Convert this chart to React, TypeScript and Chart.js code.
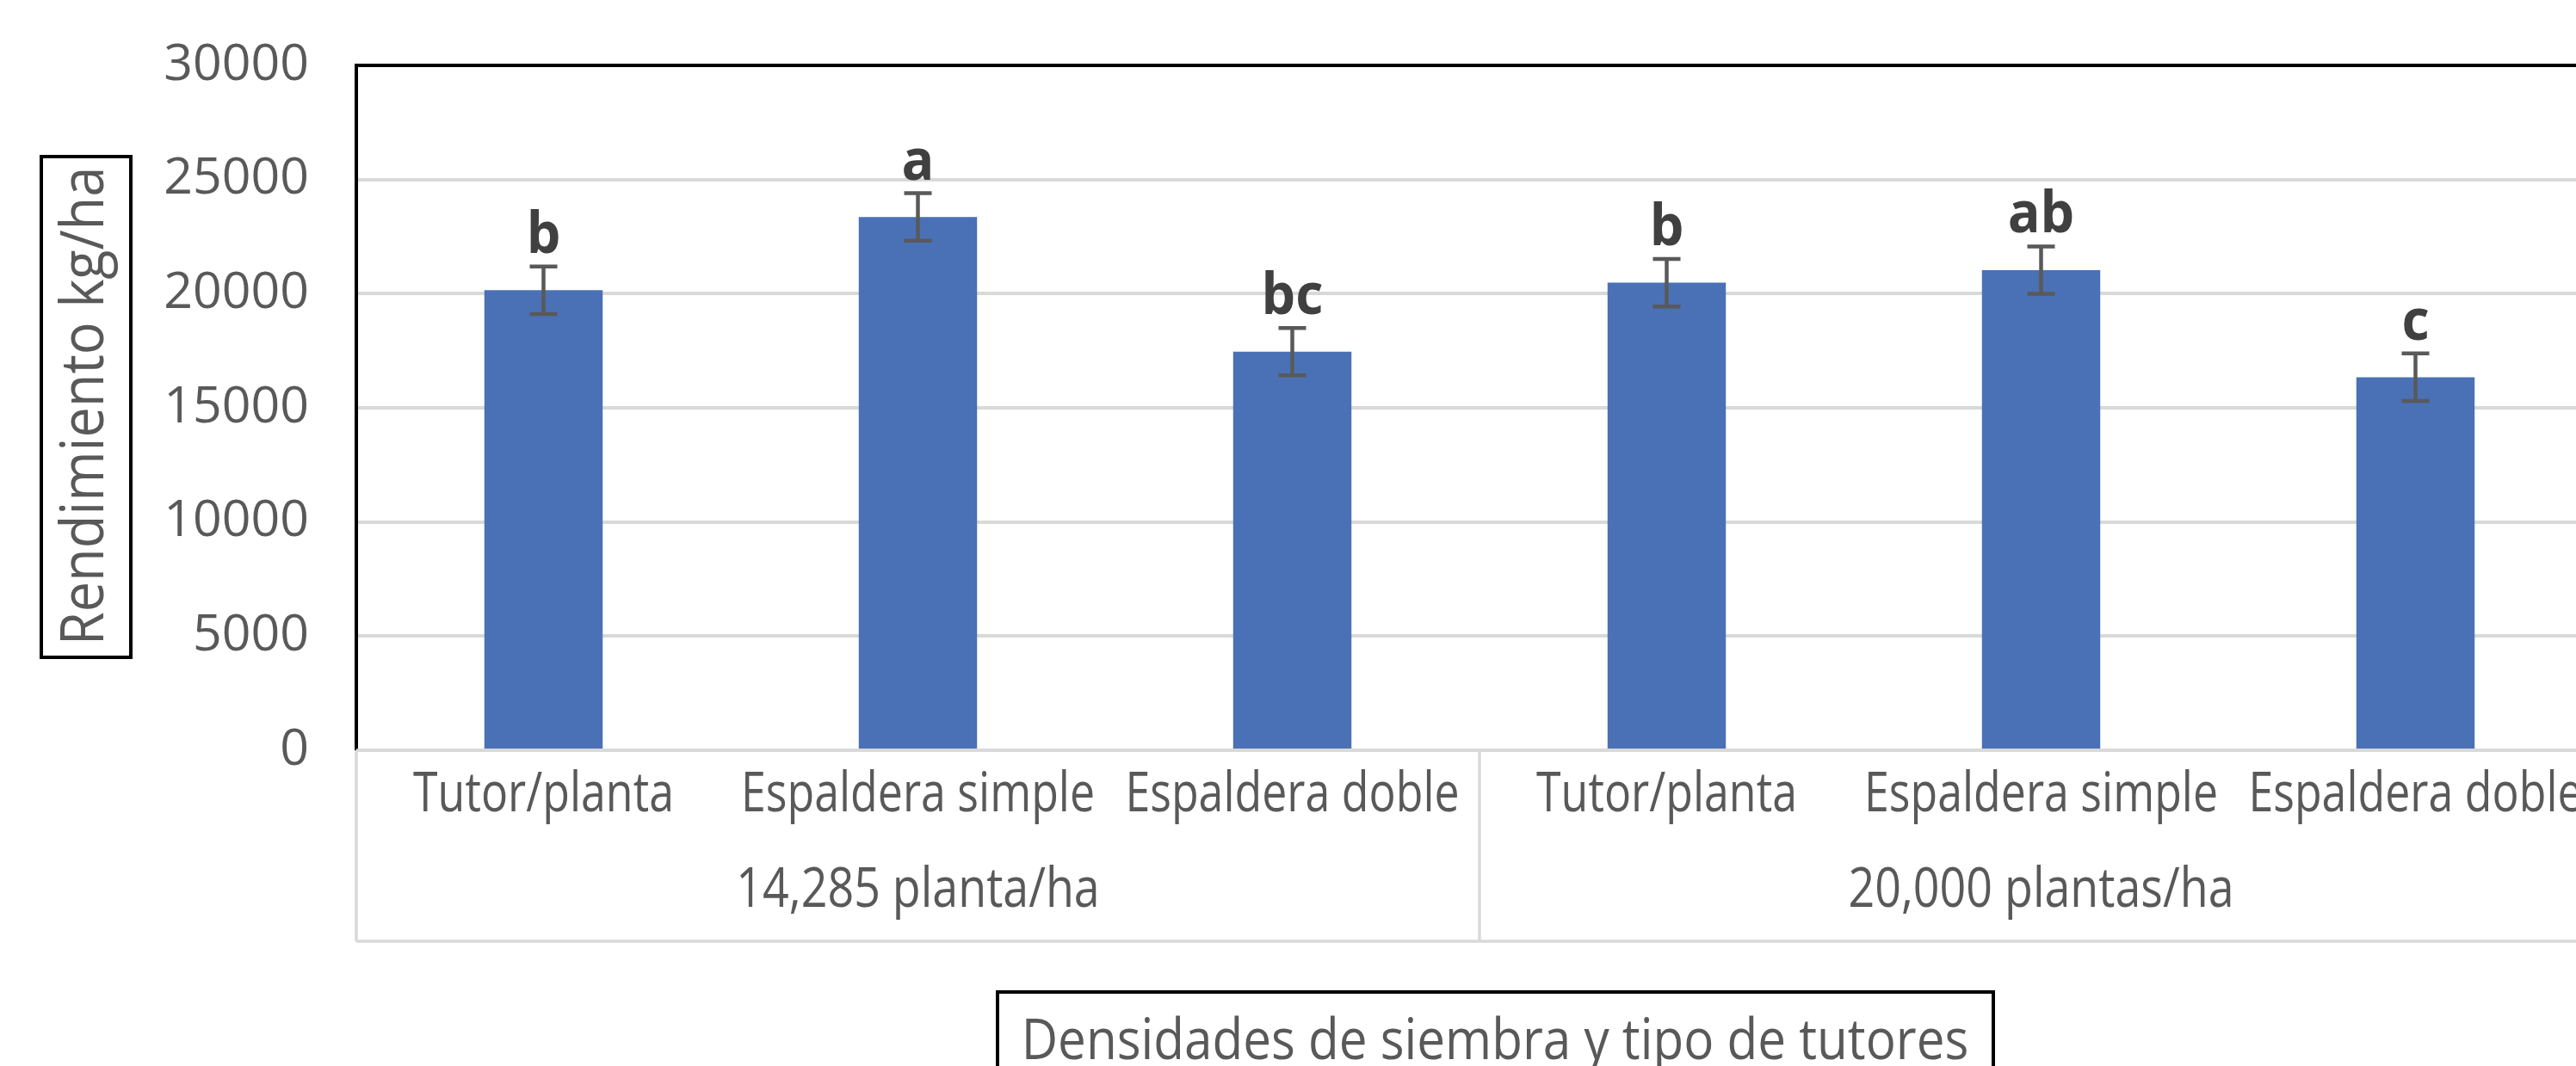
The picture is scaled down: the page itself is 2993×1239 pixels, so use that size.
import React, { useEffect, useRef } from "react";
import { Chart, registerables } from "chart.js";
Chart.register(...registerables);

const categories = [
  "Tutor/planta",
  "Espaldera simple",
  "Espaldera doble",
  "Tutor/planta",
  "Espaldera simple",
  "Espaldera doble",
];
const groups = ["14,285 planta/ha", "20,000 plantas/ha"];
const groupSize = 3;
const yields = [20150, 23360, 17460, 20480, 21030, 16340];
const errors = [1040, 1040, 1040, 1040, 1040, 1040];
const letters = ["b", "a", "bc", "b", "ab", "c"];
const yMin = 0;
const yMax = 30000;
const yStep = 5000;
const yTitle = "Rendimiento kg/ha";
const xTitle = "Densidades de siembra y tipo de tutores";

const FONT = "'Open Sans', 'DejaVu Sans', sans-serif";
const TEXT = "#595959";
const GRID = "#d9d9d9";
const BAR = "#4A71B6";

function condensedText(
  ctx: CanvasRenderingContext2D,
  text: string,
  x: number,
  y: number,
  size: number,
  sx: number,
  rotate = 0,
  weight = "normal",
  color = TEXT,
  baseline: CanvasTextBaseline = "alphabetic"
) {
  ctx.save();
  ctx.translate(x, y);
  if (rotate) ctx.rotate(rotate);
  ctx.scale(sx, 1);
  ctx.font = `${weight} ${size}px ${FONT}`;
  ctx.fillStyle = color;
  ctx.textAlign = "center";
  ctx.textBaseline = baseline;
  ctx.fillText(text, 0, 0);
  ctx.restore();
}

const decorations = {
  id: "decorations",
  afterDraw(chart: any) {
    const ctx: CanvasRenderingContext2D = chart.ctx;
    const area = chart.chartArea;
    const yScale = chart.scales.y;
    const meta = chart.getDatasetMeta(0);
    const W = chart.width;

    // error bars and letters
    meta.data.forEach((el: any, i: number) => {
      const x = el.x;
      const yt = yScale.getPixelForValue(yields[i] + errors[i]);
      const yb = yScale.getPixelForValue(yields[i] - errors[i]);
      ctx.save();
      ctx.strokeStyle = "#595959";
      ctx.lineWidth = 4.5;
      ctx.beginPath();
      ctx.moveTo(x, yt);
      ctx.lineTo(x, yb);
      ctx.moveTo(x - 16, yt);
      ctx.lineTo(x + 16, yt);
      ctx.moveTo(x - 16, yb);
      ctx.lineTo(x + 16, yb);
      ctx.stroke();
      ctx.restore();
      condensedText(ctx, letters[i], x, yt - 16, 66, 0.95, 0, "bold", "#404040");
    });

    // plot border: top and left (black)
    ctx.save();
    ctx.strokeStyle = "#000";
    ctx.lineWidth = 4;
    ctx.beginPath();
    ctx.moveTo(area.left, area.bottom);
    ctx.lineTo(area.left, area.top);
    ctx.lineTo(W, area.top);
    ctx.stroke();
    ctx.restore();

    // category table
    const tableBottom = area.bottom + 222;
    ctx.save();
    ctx.strokeStyle = GRID;
    ctx.lineWidth = 3.5;
    ctx.beginPath();
    ctx.moveTo(area.left, area.bottom);
    ctx.lineTo(W, area.bottom);
    ctx.moveTo(area.left, area.bottom);
    ctx.lineTo(area.left, tableBottom);
    ctx.moveTo(area.left, tableBottom);
    ctx.lineTo(W, tableBottom);
    const xs = meta.data.map((el: any) => el.x);
    const step = xs[1] - xs[0];
    for (let g = 1; g < groups.length; g++) {
      const sx = xs[g * groupSize] - step / 2;
      ctx.moveTo(sx, area.bottom);
      ctx.lineTo(sx, tableBottom);
    }
    ctx.stroke();
    ctx.restore();

    categories.forEach((c, i) => {
      condensedText(ctx, c, xs[i], area.bottom + 71, 64, 0.81);
    });
    groups.forEach((g, gi) => {
      const first = xs[gi * groupSize];
      const last = xs[gi * groupSize + groupSize - 1];
      condensedText(ctx, g, (first + last) / 2, area.bottom + 182, 64, 0.84);
    });

    // y title box
    ctx.save();
    ctx.strokeStyle = "#000";
    ctx.lineWidth = 4;
    ctx.strokeRect(48, 182, 104, 582);
    ctx.restore();
    condensedText(ctx, yTitle, 100, 472, 70, 0.9, -Math.PI / 2, "normal", TEXT, "middle");

    // x title box
    ctx.save();
    ctx.strokeStyle = "#000";
    ctx.lineWidth = 4;
    ctx.strokeRect(1159, area.bottom + 281, 1157, 200);
    ctx.restore();
    condensedText(ctx, xTitle, 1737, area.bottom + 359, 66, 0.885);
  },
};

export default function App() {
  const ref = useRef<HTMLCanvasElement | null>(null);
  useEffect(() => {
    if (!ref.current) return;
    const chart = new Chart(ref.current, {
      type: "bar",
      data: {
        labels: categories,
        datasets: [
          {
            data: yields,
            backgroundColor: BAR,
            categoryPercentage: 1,
            barPercentage: 0.316,
          },
        ],
      },
      options: {
        animation: false,
        responsive: false,
        devicePixelRatio: 1,
        layout: { padding: { top: 76, right: 16, left: 0, bottom: 0 } },
        plugins: { legend: { display: false }, tooltip: { enabled: false } },
        scales: {
          x: {
            grid: { display: false },
            border: { display: false },
            ticks: { display: false },
            afterFit: (s: any) => {
              s.height = 367;
            },
          },
          y: {
            min: yMin,
            max: yMax,
            ticks: {
              stepSize: yStep,
              padding: 0,
              color: TEXT,
              font: { family: FONT, size: 59 },
              callback: (v: any) => String(v),
            },
            grid: {
              color: GRID,
              lineWidth: 4,
              drawTicks: true,
              tickLength: 55,
              tickColor: "rgba(0,0,0,0)",
            },
            border: { display: false },
            afterFit: (s: any) => {
              s.width = 414;
            },
          },
        },
      },
      plugins: [decorations],
    });
    return () => chart.destroy();
  }, []);
  return (
    <div
      style={{
        position: "fixed",
        left: 0,
        top: 0,
        width: 2993,
        height: 1239,
        overflow: "hidden",
        background: "#fff",
      }}
    >
      <canvas ref={ref} width={3040} height={1239} style={{ width: 3040, height: 1239, display: "block" }} />
    </div>
  );
}
